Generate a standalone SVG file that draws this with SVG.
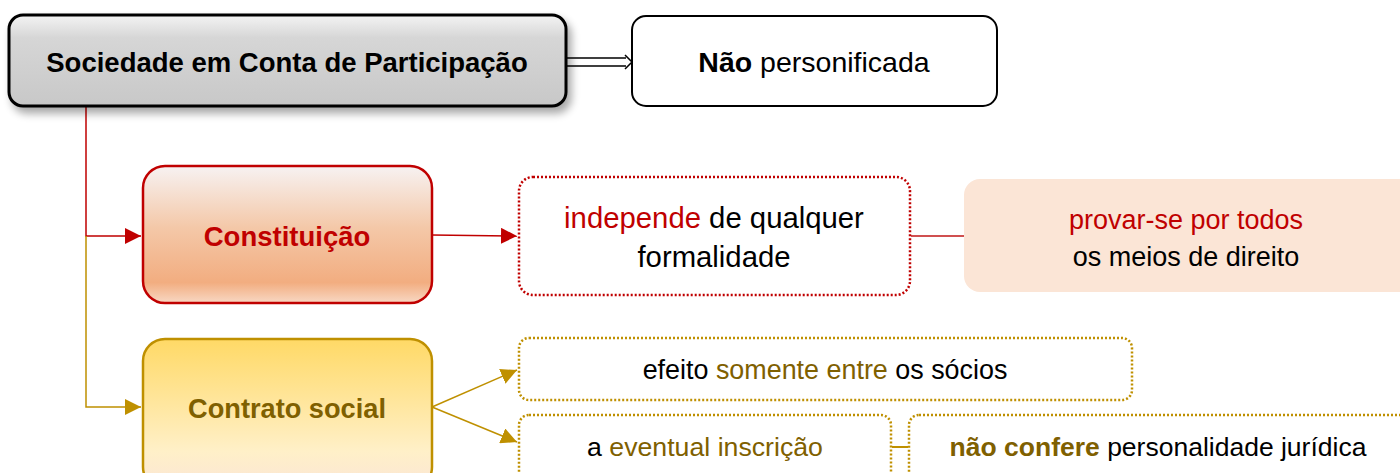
<svg xmlns="http://www.w3.org/2000/svg" width="1400" height="473" viewBox="0 0 1400 473">
<defs>
<style>
text{font-family:"Liberation Sans",Arial,sans-serif;text-anchor:middle}
.b{font-weight:bold}
.red{fill:#c00000}
.gold{fill:#7f6000}
.blk{fill:#000}
.dotR{fill:#fff;stroke:#c00000;stroke-width:2.5;stroke-dasharray:2 2}
.dotG{fill:#fff;stroke:#bf9000;stroke-width:2.5;stroke-dasharray:2 2}
</style>
<linearGradient id="gGray" x1="0" y1="0" x2="0" y2="1">
<stop offset="0" stop-color="#f4f4f4"/>
<stop offset="0.25" stop-color="#d6d6d6"/>
<stop offset="1" stop-color="#c8c8c8"/>
</linearGradient>
<linearGradient id="gRed" x1="0" y1="0" x2="0" y2="1">
<stop offset="0" stop-color="#f7f2f2"/>
<stop offset="0.45" stop-color="#f4c8a8"/>
<stop offset="0.85" stop-color="#f2ad80"/>
<stop offset="1" stop-color="#f8d8c4"/>
</linearGradient>
<linearGradient id="gGold" x1="0" y1="0" x2="0" y2="1">
<stop offset="0" stop-color="#ffd966"/>
<stop offset="0.75" stop-color="#fff0c8"/>
<stop offset="1" stop-color="#fbe5d6"/>
</linearGradient>
<filter id="sh" x="-5%" y="-10%" width="115%" height="140%">
<feGaussianBlur in="SourceAlpha" stdDeviation="4"/>
<feOffset dx="4" dy="6"/>
<feComponentTransfer><feFuncA type="linear" slope="0.35"/></feComponentTransfer>
<feMerge><feMergeNode/><feMergeNode in="SourceGraphic"/></feMerge>
</filter>
<marker id="aRed" viewBox="0 0 10 10" refX="10" refY="5" markerWidth="16" markerHeight="16" markerUnits="userSpaceOnUse" orient="auto">
<path d="M0,0 L10,5 L0,10 z" fill="#c00000"/>
</marker>
<marker id="aGold" viewBox="0 0 10 10" refX="10" refY="5" markerWidth="16" markerHeight="16" markerUnits="userSpaceOnUse" orient="auto">
<path d="M0,0 L10,5 L0,10 z" fill="#bf9000"/>
</marker>
</defs>

<g id="connectors">
<polyline points="86,107 86,236 141,236" fill="none" stroke="#c00000" stroke-width="1.5" marker-end="url(#aRed)"/>
<polyline points="86,236 86,407 141,407" fill="none" stroke="#bf9000" stroke-width="1.5" marker-end="url(#aGold)"/>
<line x1="432" y1="235" x2="517" y2="236" stroke="#c00000" stroke-width="1.5" marker-end="url(#aRed)"/>
<line x1="911" y1="236" x2="964" y2="236" stroke="#d05050" stroke-width="2"/>
<line x1="432" y1="407" x2="517" y2="370" stroke="#bf9000" stroke-width="1.5" marker-end="url(#aGold)"/>
<line x1="432" y1="407" x2="517" y2="442" stroke="#bf9000" stroke-width="1.5" marker-end="url(#aGold)"/>
<line x1="892" y1="447" x2="908" y2="447" stroke="#bf9000" stroke-width="2"/>
<g id="double-arrow">
<path d="M567,58 H626 M567,66 H626" stroke="#000" stroke-width="1.5" fill="none"/>
<path d="M625,55 L632,62 L625,69" stroke="#000" stroke-width="1.5" fill="none"/>
</g>
</g>

<g id="node-sociedade">
<rect x="9" y="15" width="557" height="91" rx="14" fill="url(#gGray)" stroke="#000" stroke-width="3" filter="url(#sh)"/>
<text x="287" y="72" class="b blk" font-size="27.5">Sociedade em Conta de Participação</text>
</g>

<g id="node-nao-personificada">
<rect x="632" y="16" width="365" height="90" rx="14" fill="#fff" stroke="#000" stroke-width="2"/>
<text x="814" y="72" font-size="28.5" class="blk"><tspan class="b">Não</tspan> personificada</text>
</g>

<g id="node-constituicao">
<rect x="143" y="166" width="289" height="137" rx="22" fill="url(#gRed)" stroke="#c00000" stroke-width="2.5"/>
<text x="287" y="246" class="b red" font-size="27.5">Constituição</text>
</g>

<g id="node-independe">
<rect x="519" y="177" width="391" height="118" rx="14" class="dotR"/>
<text x="714" y="228" font-size="29.3" class="blk"><tspan class="red">independe</tspan> de qualquer</text>
<text x="714" y="267" font-size="29.3" class="blk">formalidade</text>
</g>

<g id="node-provar">
<rect x="964" y="179" width="450" height="113" rx="16" fill="#fbe5d6"/>
<text x="1186" y="229" font-size="27" class="red">provar-se por todos</text>
<text x="1186" y="266" font-size="27" class="blk">os meios de direito</text>
</g>

<g id="node-contrato">
<rect x="143" y="339" width="289" height="150" rx="22" fill="url(#gGold)" stroke="#bf9000" stroke-width="2.5"/>
<text x="287" y="418" class="b gold" font-size="27.2">Contrato social</text>
</g>

<g id="node-efeito">
<rect x="519" y="338" width="613" height="62" rx="10" class="dotG"/>
<text x="825" y="379" font-size="26.9" class="blk">efeito <tspan class="gold">somente entre</tspan> os sócios</text>
</g>

<g id="node-inscricao">
<rect x="519" y="415" width="372" height="80" rx="10" class="dotG"/>
<text x="705" y="456" font-size="26.7" class="blk">a <tspan class="gold">eventual inscrição</tspan></text>
</g>

<g id="node-nao-confere">
<rect x="909" y="415" width="520" height="80" rx="10" class="dotG"/>
<text x="1158" y="456" font-size="26.5" class="blk"><tspan class="b gold">não confere</tspan> personalidade jurídica</text>
</g>
</svg>
